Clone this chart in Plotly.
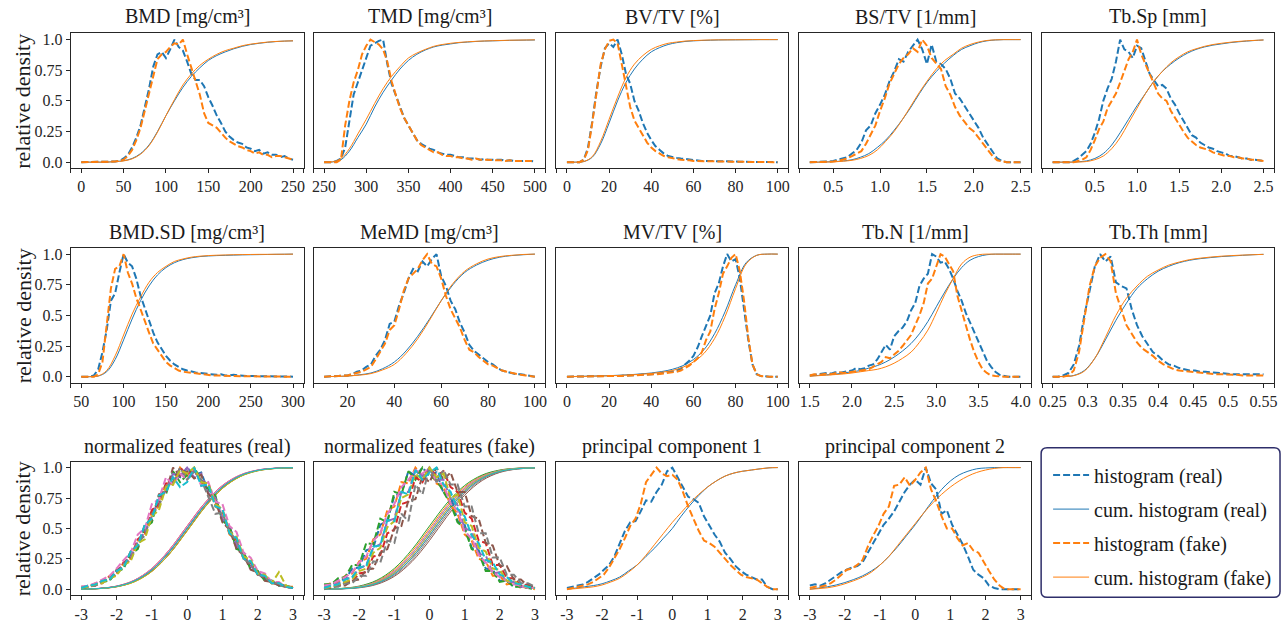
import numpy as np
import plotly.graph_objects as go

W, H = 1287, 623
BLUE, ORANGE = '#1f77b4', '#ff7f0e'
TAB10 = ['#1f77b4', '#ff7f0e', '#2ca02c', '#d62728', '#9467bd',
         '#8c564b', '#e377c2', '#7f7f7f', '#bcbd22', '#17becf']
FONT = 'Liberation Serif, Times New Roman, serif'
INK = '#262626'

COL_PX = [(68, 302), (312, 545), (556, 789), (800, 1033), (1044, 1277)]
ROW_PX = [(32, 169), (250, 387), (467, 603)]
TITLE_Y = [15, 234, 452]

# ---------------- data (relative density) ----------------
BMD_range = (0, 250)
BMD_real = [0, 0, 0, 0, 0, 0, 0, 0.003, 0.005, 0.01, 0.03, 0.06, 0.12, 0.2, 0.3, 0.45, 0.6, 0.78, 0.88, 0.9,
            0.85, 0.92, 1.0, 0.94, 0.91, 0.82, 0.72, 0.67, 0.67, 0.62, 0.53, 0.46, 0.38, 0.32, 0.25, 0.21, 0.18, 0.16, 0.15, 0.12,
            0.11, 0.09, 0.1, 0.07, 0.08, 0.06, 0.06, 0.04, 0.05, 0.03, 0.02]
BMD_fake = [0, 0, 0, 0, 0, 0, 0, 0.002, 0.005, 0.01, 0.02, 0.05, 0.1, 0.18, 0.28, 0.42, 0.56, 0.72, 0.84, 0.88,
            0.9, 0.94, 0.97, 0.96, 1.0, 0.88, 0.76, 0.66, 0.55, 0.4, 0.32, 0.3, 0.28, 0.24, 0.2, 0.17, 0.15, 0.13, 0.12, 0.1,
            0.09, 0.07, 0.08, 0.06, 0.06, 0.04, 0.05, 0.05, 0.04, 0.03, 0.02]
BMD_cum_real = [0, 0, 0, 0, 0.005, 0.012, 0.03, 0.07, 0.14, 0.25, 0.38, 0.5, 0.61, 0.7, 0.77, 0.83, 0.87, 0.9, 0.925,
                0.945, 0.96, 0.97, 0.978, 0.984, 0.988, 0.99]
BMD_cum_fake = [0, 0, 0, 0, 0.004, 0.01, 0.027, 0.065, 0.135, 0.245, 0.38, 0.51, 0.63, 0.72, 0.79, 0.84, 0.88, 0.91,
                0.93, 0.95, 0.963, 0.972, 0.98, 0.985, 0.988, 0.99]

TMD_range = (250, 500)
TMD_real = [0, 0, 0, 0.01, 0.03, 0.12, 0.33, 0.55, 0.65, 0.75, 0.85, 0.95, 0.97, 0.99, 1.0, 0.8, 0.64, 0.55, 0.46, 0.36,
            0.3, 0.24, 0.18, 0.15, 0.13, 0.11, 0.1, 0.08, 0.07, 0.06, 0.06, 0.05, 0.04, 0.04, 0.03, 0.03, 0.03, 0.02, 0.025, 0.02,
            0.02, 0.015, 0.02, 0.01, 0.015, 0.01, 0.01, 0.015, 0.01, 0.01, 0.005]
TMD_fake = [0, 0, 0, 0, 0.02, 0.3, 0.5, 0.65, 0.75, 0.88, 0.95, 1.0, 0.98, 0.96, 0.92, 0.82, 0.66, 0.55, 0.44, 0.36,
            0.3, 0.25, 0.18, 0.14, 0.12, 0.1, 0.08, 0.08, 0.06, 0.05, 0.05, 0.04, 0.04, 0.03, 0.03, 0.02, 0.03, 0.02, 0.02, 0.02,
            0.015, 0.02, 0.015, 0.01, 0.015, 0.01, 0.01, 0.01, 0.01, 0.01, 0.01]
TMD_cum_real = [0, 0.002, 0.02, 0.09, 0.2, 0.31, 0.45, 0.57, 0.67, 0.76, 0.83, 0.88, 0.915, 0.94, 0.955, 0.965, 0.975,
                0.98, 0.985, 0.988, 0.99, 0.992, 0.994, 0.995, 0.996, 0.997]
TMD_cum_fake = [0, 0.003, 0.03, 0.11, 0.23, 0.35, 0.48, 0.6, 0.7, 0.78, 0.85, 0.89, 0.92, 0.945, 0.96, 0.97, 0.977,
                0.982, 0.986, 0.989, 0.991, 0.993, 0.995, 0.996, 0.997, 0.998]

BVTV_range = (0, 100)
BVTV_real = [0, 0, 0, 0, 0.02, 0.12, 0.33, 0.58, 0.78, 0.93, 0.97, 0.94, 1.0, 0.88, 0.72, 0.64, 0.5, 0.42, 0.32, 0.24,
             0.18, 0.13, 0.1, 0.07, 0.05, 0.04, 0.035, 0.03, 0.025, 0.02, 0.015, 0.015, 0.01, 0.01, 0.01, 0.008, 0.006, 0.006,
             0.005, 0.005, 0.004, 0.004, 0.003, 0.003, 0.002, 0.002, 0.002, 0.001, 0.001, 0.001, 0]
BVTV_fake = [0, 0, 0, 0, 0.02, 0.1, 0.32, 0.58, 0.8, 0.92, 0.99, 1.0, 0.97, 0.8, 0.62, 0.45, 0.34, 0.28, 0.22, 0.16,
             0.12, 0.09, 0.07, 0.05, 0.04, 0.03, 0.025, 0.02, 0.02, 0.015, 0.01, 0.01, 0.008, 0.008, 0.006, 0.006, 0.005,
             0.005, 0.004, 0.004, 0.003, 0.003, 0.002, 0.002, 0.002, 0.001, 0.001, 0.001, 0.001, 0.001, 0]
BVTV_cum_real = [0, 0, 0.005, 0.04, 0.15, 0.32, 0.5, 0.65, 0.76, 0.84, 0.9, 0.935, 0.96, 0.975, 0.985, 0.99, 0.993,
                 0.995, 0.997, 0.998, 0.998, 0.999, 0.999, 1.0, 1.0, 1.0]
BVTV_cum_fake = [0, 0, 0.005, 0.045, 0.17, 0.35, 0.53, 0.69, 0.8, 0.87, 0.92, 0.95, 0.97, 0.98, 0.988, 0.992, 0.995,
                 0.997, 0.998, 0.998, 0.999, 0.999, 1.0, 1.0, 1.0, 1.0]

BSTV_range = (0.25, 2.5)
BSTV_real = [0, 0, 0, 0, 0.005, 0.01, 0.02, 0.03, 0.04, 0.07, 0.1, 0.16, 0.26, 0.3, 0.4, 0.47, 0.55, 0.66, 0.74, 0.84,
             0.82, 0.9, 0.95, 1.0, 0.92, 0.8, 0.96, 0.82, 0.8, 0.76, 0.68, 0.56, 0.52, 0.46, 0.4, 0.34, 0.28, 0.2, 0.14, 0.08,
             0.03, 0.01, 0, 0, 0, 0]
BSTV_fake = [0, 0, 0, 0, 0, 0.005, 0.01, 0.02, 0.03, 0.05, 0.07, 0.09, 0.15, 0.22, 0.3, 0.42, 0.52, 0.64, 0.72, 0.8,
             0.85, 0.88, 0.93, 0.9, 1.0, 0.95, 0.85, 0.8, 0.76, 0.62, 0.55, 0.45, 0.38, 0.33, 0.28, 0.25, 0.2, 0.15, 0.1, 0.05,
             0.015, 0.005, 0, 0, 0, 0]
BSTV_cum_real = [0, 0, 0.002, 0.005, 0.01, 0.02, 0.04, 0.07, 0.12, 0.18, 0.26, 0.35, 0.45, 0.56, 0.66, 0.74, 0.81,
                 0.87, 0.92, 0.95, 0.975, 0.99, 0.997, 1.0, 1.0, 1.0]
BSTV_cum_fake = [0, 0, 0.001, 0.003, 0.008, 0.015, 0.03, 0.055, 0.1, 0.17, 0.25, 0.35, 0.46, 0.57, 0.67, 0.76, 0.83,
                 0.88, 0.93, 0.96, 0.98, 0.993, 0.998, 1.0, 1.0, 1.0]

TBSP_range = (0, 2.5)
TBSP_real = [0, 0, 0, 0, 0, 0.01, 0.03, 0.06, 0.09, 0.15, 0.24, 0.35, 0.5, 0.6, 0.68, 0.82, 1.0, 0.92, 0.9, 0.85,
             0.95, 0.93, 0.82, 0.72, 0.67, 0.62, 0.63, 0.6, 0.52, 0.47, 0.4, 0.34, 0.28, 0.22, 0.2, 0.16, 0.14, 0.12, 0.11, 0.09,
             0.08, 0.07, 0.05, 0.05, 0.04, 0.03, 0.03, 0.02, 0.02, 0.015, 0.01]
TBSP_fake = [0, 0, 0, 0, 0, 0, 0.01, 0.02, 0.04, 0.1, 0.18, 0.27, 0.33, 0.44, 0.5, 0.56, 0.65, 0.74, 0.84, 0.9,
             1.0, 0.88, 0.8, 0.72, 0.64, 0.56, 0.52, 0.5, 0.42, 0.36, 0.31, 0.25, 0.2, 0.17, 0.14, 0.12, 0.11, 0.1, 0.08, 0.07,
             0.06, 0.05, 0.05, 0.04, 0.04, 0.03, 0.03, 0.02, 0.02, 0.015, 0.01]
TBSP_cum_real = [0, 0, 0, 0.003, 0.01, 0.03, 0.07, 0.14, 0.24, 0.35, 0.46, 0.56, 0.66, 0.74, 0.8, 0.85, 0.89, 0.92,
                 0.94, 0.955, 0.965, 0.975, 0.982, 0.988, 0.993, 0.997]
TBSP_cum_fake = [0, 0, 0, 0.001, 0.005, 0.02, 0.05, 0.11, 0.2, 0.32, 0.44, 0.56, 0.66, 0.74, 0.81, 0.86, 0.9, 0.925,
                 0.945, 0.96, 0.97, 0.978, 0.985, 0.99, 0.994, 0.997]

BMDSD_range = (50, 300)
BMDSD_real = [0, 0, 0, 0.01, 0.06, 0.2, 0.38, 0.62, 0.68, 0.85, 1.0, 0.93, 0.9, 0.8, 0.66, 0.56, 0.46, 0.36, 0.28, 0.22,
              0.17, 0.13, 0.1, 0.08, 0.06, 0.05, 0.04, 0.035, 0.03, 0.025, 0.02, 0.02, 0.015, 0.02, 0.01, 0.01, 0.015, 0.01,
              0.005, 0.005, 0.005, 0.005, 0.003, 0.003, 0.002, 0.002, 0.002, 0.001, 0.001, 0, 0]
BMDSD_fake = [0, 0, 0, 0, 0.02, 0.12, 0.42, 0.72, 0.88, 0.9, 1.0, 0.85, 0.76, 0.64, 0.55, 0.45, 0.36, 0.27, 0.22, 0.16,
              0.12, 0.09, 0.07, 0.05, 0.04, 0.035, 0.03, 0.025, 0.02, 0.015, 0.015, 0.01, 0.01, 0.008, 0.006, 0.005, 0.005,
              0.004, 0.003, 0.003, 0.002, 0.002, 0.002, 0.001, 0.001, 0.001, 0, 0, 0, 0, 0]
BMDSD_cum_real = [0, 0, 0.005, 0.04, 0.14, 0.3, 0.47, 0.62, 0.74, 0.83, 0.89, 0.93, 0.955, 0.97, 0.98, 0.985, 0.988,
                  0.99, 0.992, 0.994, 0.995, 0.996, 0.997, 0.998, 0.999, 1.0]
BMDSD_cum_fake = [0, 0, 0.006, 0.05, 0.17, 0.34, 0.51, 0.65, 0.77, 0.85, 0.9, 0.94, 0.96, 0.975, 0.983, 0.988, 0.991,
                  0.993, 0.995, 0.996, 0.997, 0.998, 0.998, 0.999, 0.999, 1.0]

MEMD_range = (10, 100)
MEMD_real = [0, 0, 0, 0.005, 0.01, 0.01, 0.02, 0.04, 0.05, 0.08, 0.1, 0.17, 0.22, 0.3, 0.43, 0.45, 0.58, 0.68, 0.8, 0.88,
             0.86, 0.94, 0.9, 0.96, 1.0, 0.82, 0.74, 0.62, 0.55, 0.44, 0.36, 0.26, 0.21, 0.18, 0.15, 0.12, 0.1, 0.07, 0.05,
             0.04, 0.03, 0.02, 0.02, 0.015, 0.01, 0]
MEMD_fake = [0, 0, 0, 0.005, 0.01, 0.01, 0.02, 0.03, 0.04, 0.06, 0.08, 0.14, 0.2, 0.27, 0.38, 0.42, 0.55, 0.7, 0.8, 0.84,
             0.88, 0.95, 1.0, 0.92, 0.9, 0.8, 0.66, 0.55, 0.48, 0.4, 0.3, 0.22, 0.2, 0.16, 0.13, 0.1, 0.09, 0.07, 0.05, 0.04,
             0.03, 0.02, 0.015, 0.01, 0.005, 0]
MEMD_cum_real = [0, 0.002, 0.005, 0.015, 0.03, 0.065, 0.12, 0.21, 0.33, 0.47, 0.62, 0.75, 0.85, 0.91, 0.95, 0.975,
                 0.988, 0.995, 1.0]
MEMD_cum_fake = [0, 0.002, 0.005, 0.012, 0.025, 0.055, 0.1, 0.19, 0.31, 0.46, 0.62, 0.76, 0.86, 0.92, 0.96, 0.98,
                 0.99, 0.997, 1.0]

MVTV_range = (0, 100)
MVTV_real = [0, 0, 0, 0, 0.002, 0.002, 0.002, 0.003, 0.003, 0.004, 0.004, 0.005, 0.006, 0.007, 0.008, 0.01, 0.01, 0.012,
             0.014, 0.016, 0.02, 0.022, 0.026, 0.03, 0.035, 0.042, 0.05, 0.065, 0.1, 0.13, 0.17, 0.24, 0.33, 0.42, 0.5, 0.68,
             0.76, 0.9, 1.0, 0.94, 0.96, 0.8, 0.55, 0.3, 0.1, 0.02, 0.005, 0, 0, 0, 0]
MVTV_fake = [0, 0, 0, 0, 0.001, 0.002, 0.002, 0.002, 0.003, 0.003, 0.004, 0.004, 0.005, 0.006, 0.007, 0.008, 0.01, 0.01,
             0.012, 0.014, 0.016, 0.02, 0.022, 0.025, 0.03, 0.035, 0.04, 0.05, 0.07, 0.09, 0.12, 0.15, 0.2, 0.3, 0.37, 0.55,
             0.68, 0.84, 0.9, 0.97, 1.0, 0.86, 0.62, 0.32, 0.1, 0.02, 0.005, 0, 0, 0, 0]
MVTV_cum_real = [0, 0.002, 0.004, 0.006, 0.008, 0.012, 0.016, 0.022, 0.03, 0.042, 0.06, 0.09, 0.14, 0.22, 0.35, 0.53,
                 0.75, 0.93, 0.99, 1.0, 1.0]
MVTV_cum_fake = [0, 0.001, 0.003, 0.005, 0.007, 0.01, 0.014, 0.019, 0.026, 0.036, 0.05, 0.077, 0.12, 0.19, 0.31, 0.49,
                 0.72, 0.92, 0.99, 1.0, 1.0]

TBN_range = (1.5, 4.0)
TBN_real = [0.01, 0.015, 0.02, 0.02, 0.03, 0.025, 0.035, 0.03, 0.04, 0.045, 0.05, 0.07, 0.06, 0.07, 0.09, 0.1, 0.14, 0.2,
            0.26, 0.22, 0.33, 0.37, 0.4, 0.45, 0.54, 0.6, 0.74, 0.8, 0.84, 1.0, 0.98, 0.93, 0.94, 0.88, 0.8, 0.7, 0.62, 0.52,
            0.44, 0.36, 0.28, 0.2, 0.13, 0.08, 0.04, 0.015, 0.005, 0, 0, 0, 0]
TBN_fake = [0.01, 0.02, 0.015, 0.02, 0.025, 0.02, 0.03, 0.035, 0.03, 0.035, 0.04, 0.045, 0.05, 0.055, 0.06, 0.08, 0.1,
            0.12, 0.16, 0.15, 0.18, 0.21, 0.25, 0.3, 0.34, 0.42, 0.5, 0.6, 0.76, 0.8, 0.9, 1.0, 0.98, 0.92, 0.86, 0.66, 0.55,
            0.42, 0.3, 0.2, 0.12, 0.06, 0.03, 0.01, 0.005, 0, 0, 0, 0, 0, 0]
TBN_cum_real = [0.005, 0.01, 0.015, 0.02, 0.03, 0.04, 0.05, 0.07, 0.09, 0.12, 0.16, 0.21, 0.27, 0.35, 0.45, 0.57, 0.69,
                0.8, 0.89, 0.95, 0.98, 0.995, 1.0, 1.0, 1.0, 1.0]
TBN_cum_fake = [0.004, 0.008, 0.012, 0.017, 0.022, 0.03, 0.04, 0.05, 0.06, 0.08, 0.11, 0.15, 0.2, 0.28, 0.38, 0.52,
                0.67, 0.8, 0.92, 0.975, 0.995, 1.0, 1.0, 1.0, 1.0, 1.0]

TBTH_range = (0.25, 0.55)
TBTH_real = [0, 0, 0.01, 0.03, 0.1, 0.25, 0.5, 0.7, 0.9, 1.0, 0.94, 0.98, 0.77, 0.74, 0.72, 0.55, 0.42, 0.33, 0.26, 0.2,
             0.17, 0.13, 0.1, 0.09, 0.07, 0.06, 0.05, 0.05, 0.04, 0.04, 0.035, 0.03, 0.03, 0.025, 0.02, 0.02, 0.02, 0.015,
             0.015, 0.015, 0.02]
TBTH_fake = [0, 0, 0, 0.01, 0.05, 0.2, 0.48, 0.74, 0.9, 0.97, 1.0, 0.94, 0.68, 0.55, 0.42, 0.35, 0.28, 0.23, 0.2, 0.17,
             0.13, 0.1, 0.08, 0.06, 0.05, 0.045, 0.04, 0.035, 0.03, 0.03, 0.025, 0.02, 0.02, 0.02, 0.015, 0.015, 0.01, 0.01,
             0.01, 0.01, 0.01]
TBTH_cum_real = [0, 0.002, 0.01, 0.05, 0.15, 0.3, 0.46, 0.6, 0.72, 0.8, 0.86, 0.9, 0.93, 0.95, 0.963, 0.972, 0.98,
                 0.985, 0.99, 0.995, 0.998]
TBTH_cum_fake = [0, 0.001, 0.008, 0.045, 0.15, 0.32, 0.5, 0.64, 0.74, 0.82, 0.87, 0.91, 0.935, 0.955, 0.967, 0.976,
                 0.983, 0.988, 0.992, 0.995, 0.998]

PC_range = (-3, 3)
PC1_real = [0.01, 0.02, 0.03, 0.04, 0.06, 0.09, 0.12, 0.16, 0.2, 0.27, 0.38, 0.48, 0.55, 0.56, 0.64, 0.73, 0.72, 0.8, 0.86,
            0.97, 1.0, 0.92, 0.85, 0.76, 0.74, 0.71, 0.6, 0.52, 0.45, 0.39, 0.3, 0.25, 0.19, 0.15, 0.12, 0.1, 0.08, 0.08,
            0.02, 0.0, 0.0]
PC1_fake = [0.0, 0.01, 0.02, 0.03, 0.04, 0.06, 0.09, 0.12, 0.18, 0.25, 0.33, 0.42, 0.52, 0.58, 0.7, 0.88, 0.94, 1.0, 0.95,
            0.93, 0.94, 0.9, 0.8, 0.68, 0.58, 0.48, 0.4, 0.38, 0.35, 0.3, 0.25, 0.2, 0.16, 0.12, 0.1, 0.09, 0.08, 0.05, 0.02,
            0.0, 0.0]
PC1_cum_real = [0.0, 0.01, 0.02, 0.03, 0.045, 0.07, 0.1, 0.15, 0.2, 0.27, 0.34, 0.42, 0.5, 0.6, 0.69, 0.77, 0.84, 0.89,
                0.93, 0.955, 0.97, 0.98, 0.99, 0.998, 1.0]
PC1_cum_fake = [0.0, 0.005, 0.012, 0.02, 0.035, 0.06, 0.09, 0.14, 0.2, 0.28, 0.37, 0.46, 0.55, 0.63, 0.71, 0.78, 0.84,
                0.89, 0.93, 0.955, 0.97, 0.98, 0.99, 0.998, 1.0]
PC2_real = [0.03, 0.04, 0.03, 0.05, 0.08, 0.11, 0.14, 0.16, 0.18, 0.19, 0.22, 0.3, 0.38, 0.46, 0.53, 0.58, 0.64, 0.72, 0.8,
            0.86, 0.9, 0.86, 1.0, 0.87, 0.82, 0.62, 0.65, 0.53, 0.45, 0.37, 0.27, 0.16, 0.12, 0.09, 0.03, 0.01, 0.0, 0, 0, 0, 0]
PC2_fake = [0.01, 0.02, 0.02, 0.03, 0.05, 0.08, 0.12, 0.16, 0.17, 0.2, 0.24, 0.35, 0.44, 0.52, 0.62, 0.68, 0.85, 0.86, 0.92,
            0.85, 0.9, 0.96, 1.0, 0.82, 0.72, 0.6, 0.5, 0.5, 0.42, 0.36, 0.38, 0.32, 0.3, 0.22, 0.15, 0.08, 0.03, 0.0, 0, 0, 0]
PC2_cum_real = [0.0, 0.01, 0.02, 0.035, 0.055, 0.08, 0.11, 0.15, 0.2, 0.27, 0.35, 0.44, 0.53, 0.63, 0.73, 0.82, 0.89,
                0.94, 0.97, 0.99, 0.997, 1.0, 1.0, 1.0, 1.0]
PC2_cum_fake = [0.0, 0.005, 0.012, 0.025, 0.045, 0.07, 0.1, 0.14, 0.2, 0.27, 0.36, 0.45, 0.54, 0.63, 0.71, 0.78, 0.84,
                0.89, 0.93, 0.96, 0.98, 0.993, 1.0, 1.0, 1.0]

# normalized features: one histogram / cumulative curve per feature (10 features)
NORM_range = (-3, 3)
NORM_REAL_HIST = [
    [0.01, 0.03, 0.03, 0.07, 0.08, 0.15, 0.18, 0.3, 0.35, 0.52, 0.57, 0.76, 0.8, 0.95, 0.92, 1.0, 0.94, 0.96, 0.8, 0.76, 0.57, 0.52, 0.34, 0.3, 0.18, 0.15, 0.08, 0.07, 0.03, 0.03, 0.01],
    [0.02, 0.02, 0.05, 0.05, 0.11, 0.12, 0.22, 0.25, 0.4, 0.45, 0.64, 0.68, 0.88, 0.86, 1.0, 0.93, 0.99, 0.87, 0.86, 0.68, 0.64, 0.45, 0.4, 0.25, 0.22, 0.12, 0.11, 0.05, 0.05, 0.02, 0.02],
    [0.01, 0.02, 0.04, 0.06, 0.07, 0.14, 0.17, 0.29, 0.33, 0.5, 0.55, 0.77, 0.78, 0.97, 0.88, 0.94, 1.0, 0.9, 0.82, 0.77, 0.56, 0.52, 0.33, 0.31, 0.16, 0.15, 0.07, 0.07, 0.03, 0.03, 0.01],
    [0.01, 0.03, 0.03, 0.07, 0.1, 0.12, 0.22, 0.26, 0.41, 0.46, 0.65, 0.7, 0.87, 0.88, 1.0, 0.94, 0.98, 0.88, 0.87, 0.7, 0.65, 0.46, 0.41, 0.26, 0.22, 0.12, 0.1, 0.05, 0.05, 0.02, 0.01],
    [0.02, 0.02, 0.04, 0.05, 0.1, 0.13, 0.21, 0.26, 0.39, 0.47, 0.6, 0.74, 0.81, 0.95, 0.93, 1.0, 0.92, 0.95, 0.79, 0.75, 0.58, 0.5, 0.36, 0.29, 0.19, 0.14, 0.1, 0.06, 0.04, 0.02, 0.01],
    [0.01, 0.02, 0.04, 0.07, 0.08, 0.16, 0.19, 0.31, 0.35, 0.53, 0.57, 0.78, 0.8, 1.0, 0.93, 0.97, 0.91, 0.94, 0.78, 0.73, 0.55, 0.49, 0.33, 0.28, 0.16, 0.14, 0.07, 0.06, 0.03, 0.02, 0.01],
    [0.02, 0.03, 0.05, 0.08, 0.11, 0.17, 0.24, 0.3, 0.45, 0.5, 0.7, 0.74, 0.92, 0.86, 0.95, 0.9, 1.0, 0.85, 0.88, 0.72, 0.7, 0.52, 0.47, 0.3, 0.26, 0.15, 0.13, 0.06, 0.06, 0.02, 0.02],
    [0.01, 0.02, 0.03, 0.06, 0.09, 0.12, 0.2, 0.24, 0.39, 0.44, 0.62, 0.68, 0.85, 0.87, 1.0, 0.9, 0.97, 0.9, 0.76, 0.62, 0.63, 0.47, 0.4, 0.25, 0.21, 0.12, 0.1, 0.05, 0.05, 0.02, 0.01],
    [0.01, 0.02, 0.04, 0.05, 0.09, 0.11, 0.2, 0.23, 0.38, 0.41, 0.6, 0.65, 0.84, 0.86, 0.98, 0.95, 1.0, 0.88, 0.87, 0.7, 0.66, 0.47, 0.43, 0.27, 0.24, 0.13, 0.12, 0.05, 0.14, 0.03, 0.01],
    [0.01, 0.03, 0.04, 0.07, 0.08, 0.15, 0.18, 0.31, 0.36, 0.53, 0.58, 0.77, 0.8, 0.92, 0.84, 0.88, 1.0, 0.85, 0.86, 0.68, 0.66, 0.46, 0.42, 0.25, 0.23, 0.12, 0.11, 0.05, 0.05, 0.02, 0.01],
]
NORM_REAL_CUM = [
    [0.001, 0.006, 0.023, 0.067, 0.159, 0.309, 0.5, 0.691, 0.841, 0.933, 0.977, 0.994, 0.999],
    [0.001, 0.005, 0.02, 0.061, 0.147, 0.291, 0.48, 0.674, 0.829, 0.926, 0.974, 0.993, 0.998],
    [0.001, 0.006, 0.024, 0.068, 0.16, 0.31, 0.5, 0.69, 0.84, 0.932, 0.977, 0.994, 0.999],
    [0.002, 0.007, 0.026, 0.074, 0.171, 0.326, 0.52, 0.709, 0.853, 0.939, 0.98, 0.995, 0.999],
    [0.001, 0.006, 0.022, 0.066, 0.158, 0.308, 0.498, 0.69, 0.842, 0.934, 0.978, 0.994, 0.999],
    [0.001, 0.005, 0.021, 0.062, 0.148, 0.292, 0.482, 0.675, 0.83, 0.927, 0.975, 0.993, 0.998],
    [0.002, 0.007, 0.025, 0.073, 0.17, 0.325, 0.518, 0.707, 0.852, 0.938, 0.98, 0.995, 0.999],
    [0.001, 0.006, 0.023, 0.067, 0.158, 0.31, 0.502, 0.692, 0.84, 0.932, 0.976, 0.994, 0.999],
    [0.001, 0.005, 0.02, 0.06, 0.146, 0.29, 0.478, 0.672, 0.828, 0.925, 0.973, 0.992, 0.998],
    [0.001, 0.006, 0.023, 0.068, 0.16, 0.31, 0.5, 0.69, 0.841, 0.933, 0.977, 0.994, 0.999],
]
NORM_FAKE_HIST = [
    [0.03, 0.03, 0.08, 0.08, 0.17, 0.18, 0.32, 0.34, 0.53, 0.56, 0.77, 0.79, 0.97, 0.93, 1.0, 0.93, 0.96, 0.79, 0.77, 0.56, 0.53, 0.34, 0.32, 0.17, 0.16, 0.07, 0.07, 0.02, 0.03, 0.01, 0.01],
    [0.03, 0.05, 0.06, 0.11, 0.13, 0.23, 0.25, 0.41, 0.45, 0.65, 0.68, 0.88, 0.87, 1.0, 0.93, 0.98, 0.87, 0.84, 0.69, 0.62, 0.45, 0.4, 0.25, 0.23, 0.11, 0.11, 0.04, 0.05, 0.01, 0.02, 0.0],
    [0.04, 0.04, 0.09, 0.1, 0.2, 0.2, 0.38, 0.37, 0.58, 0.55, 0.8, 0.78, 0.97, 0.9, 1.0, 0.93, 0.9, 0.8, 0.7, 0.55, 0.5, 0.33, 0.3, 0.15, 0.15, 0.06, 0.07, 0.02, 0.02, 0.01, 0.0],
    [0.01, 0.02, 0.03, 0.06, 0.06, 0.13, 0.14, 0.27, 0.28, 0.46, 0.49, 0.7, 0.72, 0.92, 0.88, 1.0, 0.93, 0.97, 0.84, 0.8, 0.63, 0.58, 0.4, 0.38, 0.2, 0.2, 0.09, 0.09, 0.03, 0.04, 0.01],
    [0.02, 0.03, 0.05, 0.08, 0.1, 0.17, 0.2, 0.34, 0.37, 0.56, 0.58, 0.8, 0.8, 0.98, 0.93, 1.0, 0.9, 0.9, 0.74, 0.69, 0.5, 0.48, 0.29, 0.28, 0.13, 0.14, 0.06, 0.06, 0.02, 0.02, 0.01],
    [0.01, 0.01, 0.03, 0.03, 0.07, 0.08, 0.16, 0.17, 0.3, 0.33, 0.5, 0.52, 0.73, 0.74, 0.93, 0.88, 1.0, 0.9, 0.96, 0.8, 0.8, 0.6, 0.58, 0.38, 0.36, 0.19, 0.19, 0.08, 0.08, 0.03, 0.02],
    [0.03, 0.04, 0.07, 0.1, 0.14, 0.22, 0.27, 0.4, 0.46, 0.62, 0.7, 0.84, 0.9, 0.98, 0.95, 1.0, 0.88, 0.86, 0.7, 0.65, 0.47, 0.42, 0.28, 0.22, 0.14, 0.1, 0.07, 0.04, 0.03, 0.01, 0.01],
    [0.0, 0.02, 0.02, 0.05, 0.05, 0.11, 0.11, 0.23, 0.22, 0.4, 0.38, 0.62, 0.56, 0.86, 0.78, 1.0, 0.88, 0.98, 0.86, 0.86, 0.68, 0.68, 0.46, 0.46, 0.26, 0.26, 0.12, 0.12, 0.05, 0.05, 0.02],
    [0.01, 0.02, 0.04, 0.06, 0.08, 0.15, 0.17, 0.3, 0.34, 0.51, 0.56, 0.75, 0.78, 0.95, 0.9, 1.0, 0.92, 0.95, 0.75, 0.78, 0.55, 0.52, 0.34, 0.31, 0.17, 0.16, 0.07, 0.07, 0.03, 0.02, 0.01],
    [0.01, 0.03, 0.04, 0.08, 0.1, 0.18, 0.19, 0.35, 0.36, 0.57, 0.56, 0.8, 0.78, 0.98, 0.9, 0.96, 1.0, 0.86, 0.8, 0.66, 0.6, 0.44, 0.38, 0.24, 0.22, 0.12, 0.1, 0.05, 0.04, 0.02, 0.01],
]
NORM_FAKE_CUM = [
    [0.001, 0.005, 0.02, 0.061, 0.147, 0.291, 0.48, 0.674, 0.829, 0.926, 0.974, 0.993, 0.998],
    [0.001, 0.006, 0.023, 0.067, 0.159, 0.309, 0.5, 0.691, 0.841, 0.933, 0.977, 0.994, 0.999],
    [0.002, 0.007, 0.026, 0.074, 0.171, 0.326, 0.52, 0.709, 0.853, 0.939, 0.98, 0.995, 0.999],
    [0.001, 0.004, 0.016, 0.049, 0.125, 0.258, 0.44, 0.637, 0.802, 0.911, 0.968, 0.991, 0.998],
    [0.001, 0.005, 0.018, 0.055, 0.136, 0.274, 0.46, 0.655, 0.816, 0.919, 0.971, 0.992, 0.998],
    [0.001, 0.003, 0.012, 0.04, 0.106, 0.227, 0.401, 0.599, 0.773, 0.894, 0.96, 0.988, 0.997],
    [0.001, 0.005, 0.021, 0.062, 0.148, 0.292, 0.481, 0.675, 0.83, 0.927, 0.975, 0.993, 0.998],
    [0.001, 0.004, 0.014, 0.045, 0.115, 0.242, 0.421, 0.618, 0.788, 0.903, 0.964, 0.989, 0.997],
    [0.001, 0.005, 0.018, 0.056, 0.137, 0.275, 0.462, 0.656, 0.817, 0.92, 0.972, 0.992, 0.998],
    [0.001, 0.004, 0.016, 0.05, 0.126, 0.259, 0.442, 0.638, 0.803, 0.912, 0.969, 0.991, 0.998],
]

INT_TICKS = [-3, -2, -1, 0, 1, 2, 3]

PANELS = [
    ('BMD [mg/cm³]', BMD_range, BMD_real, BMD_fake, BMD_cum_real, BMD_cum_fake,
     [0, 50, 100, 150, 200, 250], ['0', '50', '100', '150', '200', '250']),
    ('TMD [mg/cm³]', TMD_range, TMD_real, TMD_fake, TMD_cum_real, TMD_cum_fake,
     [250, 300, 350, 400, 450, 500], ['250', '300', '350', '400', '450', '500']),
    ('BV/TV [%]', BVTV_range, BVTV_real, BVTV_fake, BVTV_cum_real, BVTV_cum_fake,
     [0, 20, 40, 60, 80, 100], ['0', '20', '40', '60', '80', '100']),
    ('BS/TV [1/mm]', BSTV_range, BSTV_real, BSTV_fake, BSTV_cum_real, BSTV_cum_fake,
     [0.5, 1.0, 1.5, 2.0, 2.5], ['0.5', '1.0', '1.5', '2.0', '2.5']),
    ('Tb.Sp [mm]', TBSP_range, TBSP_real, TBSP_fake, TBSP_cum_real, TBSP_cum_fake,
     [0, 0.5, 1.0, 1.5, 2.0, 2.5], ['', '0.5', '1.0', '1.5', '2.0', '2.5']),
    ('BMD.SD [mg/cm³]', BMDSD_range, BMDSD_real, BMDSD_fake, BMDSD_cum_real, BMDSD_cum_fake,
     [50, 100, 150, 200, 250, 300], ['50', '100', '150', '200', '250', '300']),
    ('MeMD [mg/cm³]', MEMD_range, MEMD_real, MEMD_fake, MEMD_cum_real, MEMD_cum_fake,
     [20, 40, 60, 80, 100], ['20', '40', '60', '80', '100']),
    ('MV/TV [%]', MVTV_range, MVTV_real, MVTV_fake, MVTV_cum_real, MVTV_cum_fake,
     [0, 20, 40, 60, 80, 100], ['0', '20', '40', '60', '80', '100']),
    ('Tb.N [1/mm]', TBN_range, TBN_real, TBN_fake, TBN_cum_real, TBN_cum_fake,
     [1.5, 2.0, 2.5, 3.0, 3.5, 4.0], ['1.5', '2.0', '2.5', '3.0', '3.5', '4.0']),
    ('Tb.Th [mm]', TBTH_range, TBTH_real, TBTH_fake, TBTH_cum_real, TBTH_cum_fake,
     [0.25, 0.3, 0.35, 0.4, 0.45, 0.5, 0.55], ['0.25', '0.3', '0.35', '0.4', '0.45', '0.5', '0.55']),
]
PC_PANELS = [
    ('principal component 1', PC1_real, PC1_fake, PC1_cum_real, PC1_cum_fake),
    ('principal component 2', PC2_real, PC2_fake, PC2_cum_real, PC2_cum_fake),
]

LEGEND_NAMES = ['histogram (real)', 'cum. histogram (real)', 'histogram (fake)', 'cum. histogram (fake)']
DASH = '7px,3px'

fig = go.Figure()
layout = {}
annotations = []


def ax_name(k, a):
    return a + ('axis' if k == 1 else 'axis%d' % k)


def setup_axes(k, row, col, rng, tickvals, ticktext, title):
    x0, x1 = COL_PX[col]
    y0, y1 = ROW_PX[row]
    lo, hi = rng
    pad = 0.05 * (hi - lo)
    r = [lo - pad, hi + pad]
    tv = [r[0]] + list(tickvals) + [r[1]]
    tt = [''] + list(ticktext) + ['']
    common = dict(showline=True, mirror=True, linecolor=INK, linewidth=1, showgrid=False,
                  zeroline=False, ticks='outside', ticklen=4, tickwidth=1, tickcolor=INK,
                  tickfont=dict(family=FONT, size=16, color=INK), fixedrange=True)
    layout[ax_name(k, 'x')] = dict(domain=[x0 / W, x1 / W], range=r, anchor='y%d' % k,
                                   tickmode='array', tickvals=tv, ticktext=tt, **common)
    ydict = dict(domain=[1 - y1 / H, 1 - y0 / H], range=[-0.05, 1.05], anchor='x%d' % k, **common)
    if col == 0:
        ydict.update(tickmode='array', tickvals=[0, 0.25, 0.5, 0.75, 1.0],
                     ticktext=['0.0', '0.25', '0.5', '0.75', '1.0'])
    else:
        ydict.update(showticklabels=False, ticks='')
    layout[ax_name(k, 'y')] = ydict
    annotations.append(dict(text=title, x=(x0 + x1) / 2 / W, y=1 - TITLE_Y[row] / H,
                            xref='paper', yref='paper', xanchor='center', yanchor='middle',
                            showarrow=False, font=dict(family=FONT, size=20, color='#1a1a1a')))


def add_line(k, rng, vals, color, width, dash, name=None, show=False, shape='linear'):
    x = np.linspace(rng[0], rng[1], len(vals))
    fig.add_trace(go.Scatter(x=x, y=vals, mode='lines', xaxis='x%d' % k, yaxis='y%d' % k,
                             line=dict(color=color, width=width, dash=dash, shape=shape),
                             name=name, legendgroup=name if show else None,
                             showlegend=show, hoverinfo='skip'))


k = 0
for i, (title, rng, real, fake, creal, cfake, tv, tt) in enumerate(PANELS):
    k += 1
    row, col = divmod(i, 5)
    setup_axes(k, row, col, rng, tv, tt, title)
    first = (i == 0)
    add_line(k, rng, real, BLUE, 2, DASH, LEGEND_NAMES[0], first)
    add_line(k, rng, creal, BLUE, 1, 'solid', LEGEND_NAMES[1], first, 'spline')
    add_line(k, rng, fake, ORANGE, 2, DASH, LEGEND_NAMES[2], first)
    add_line(k, rng, cfake, ORANGE, 1, 'solid', LEGEND_NAMES[3], first, 'spline')

for j, (title, hists, cums) in enumerate([('normalized features (real)', NORM_REAL_HIST, NORM_REAL_CUM),
                                          ('normalized features (fake)', NORM_FAKE_HIST, NORM_FAKE_CUM)]):
    k += 1
    setup_axes(k, 2, j, NORM_range, INT_TICKS, [str(v) for v in INT_TICKS], title)
    for s in range(len(hists)):
        add_line(k, NORM_range, cums[s], TAB10[s % 10], 1, 'solid', shape='spline')
    for s in range(len(hists)):
        add_line(k, NORM_range, hists[s], TAB10[s % 10], 2, DASH)

for j, (title, real, fake, creal, cfake) in enumerate(PC_PANELS):
    k += 1
    setup_axes(k, 2, 2 + j, PC_range, INT_TICKS, [str(v) for v in INT_TICKS], title)
    add_line(k, PC_range, real, BLUE, 2, DASH)
    add_line(k, PC_range, creal, BLUE, 1, 'solid', shape='spline')
    add_line(k, PC_range, fake, ORANGE, 2, DASH)
    add_line(k, PC_range, cfake, ORANGE, 1, 'solid', shape='spline')

# y-axis labels
for row in range(3):
    y0, y1 = ROW_PX[row]
    annotations.append(dict(text='relative density', x=20 / W, y=1 - (y0 + y1) / 2 / H,
                            xref='paper', yref='paper', xanchor='center', yanchor='middle',
                            textangle=-90, showarrow=False,
                            font=dict(family=FONT, size=22, color='#1a1a1a')))

# rounded legend frame
LX0, LY0, LX1, LY1, R = 1043, 453, 1283, 605, 6
def px(x, y):
    return '%.5f,%.5f' % (x / W, 1 - y / H)
path = ('M %s L %s Q %s %s L %s Q %s %s L %s Q %s %s L %s Q %s %s Z' % (
    px(LX0 + R, LY0), px(LX1 - R, LY0), px(LX1, LY0), px(LX1, LY0 + R),
    px(LX1, LY1 - R), px(LX1, LY1), px(LX1 - R, LY1),
    px(LX0 + R, LY1), px(LX0, LY1), px(LX0, LY1 - R),
    px(LX0, LY0 + R), px(LX0, LY0), px(LX0 + R, LY0)))

layout.update(
    width=W, height=H, margin=dict(l=0, r=0, t=0, b=0),
    paper_bgcolor='white', plot_bgcolor='white',
    font=dict(family=FONT, color=INK),
    annotations=annotations,
    shapes=[dict(type='path', path=path, xref='paper', yref='paper',
                 line=dict(color='#2e2e6a', width=1.5), fillcolor='white', layer='below')],
    showlegend=True,
    legend=dict(x=1050 / W, y=1 - 461 / H, xanchor='left', yanchor='top',
                bgcolor='rgba(0,0,0,0)', borderwidth=0, traceorder='grouped',
                tracegroupgap=5, itemwidth=36,
                font=dict(family=FONT, size=20, color='#1a1a1a')),
)
fig.update_layout(layout)
fig.write_html('out.html')
